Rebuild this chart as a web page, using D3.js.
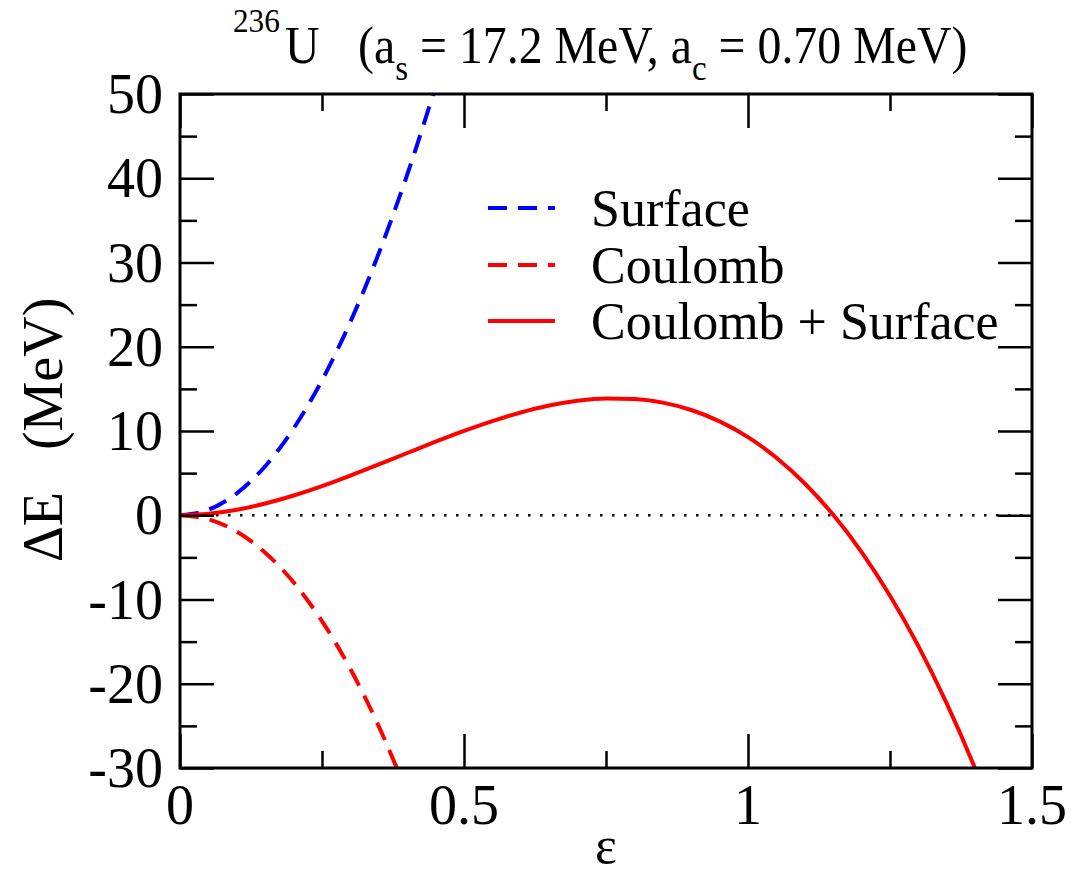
<!DOCTYPE html>
<html>
<head>
<meta charset="utf-8">
<script src="https://cdn.jsdelivr.net/npm/d3@7"></script>
<style>
    body { margin: 0; background: #fff; }
</style>
</head>
<body>
<div id="chart"></div>
<script>
// deformation values (epsilon) and energies
let epsSurface = [0, 0.05, 0.10, 0.15, 0.20, 0.25, 0.30, 0.35, 0.40, 0.45];
let eSurface = [0, 0.65, 2.60, 5.82, 10.30, 16.02, 22.96, 31.10, 40.42, 50.90];

let epsCoulomb = [0, 0.05, 0.10, 0.15, 0.20, 0.25, 0.30, 0.35, 0.40];
let eCoulomb = [0, -0.48, -1.95, -4.44, -7.96, -12.56, -18.25, -25.06, -33.02];

let epsTotal = [0, 0.05, 0.10, 0.15, 0.20, 0.25, 0.30, 0.35, 0.40, 0.45, 0.50, 0.55, 0.60, 0.65, 0.70,
    0.75, 0.80, 0.85, 0.90, 0.95, 1.00, 1.05, 1.10, 1.15, 1.20, 1.25, 1.30, 1.35, 1.40, 1.45];
let eTotal = [0, 0.17, 0.65, 1.39, 2.34, 3.46, 4.71, 6.04, 7.39, 8.73, 10.01, 11.18, 12.20, 13.02, 13.59,
    13.87, 13.81, 13.37, 12.49, 11.14, 9.27, 6.83, 3.77, 0.05, -4.37, -9.55, -15.53, -22.36, -30.08, -38.73];

let xMajorTicks = [0, 0.5, 1, 1.5];
let xTickLabels = ["0", "0.5", "1", "1.5"];
let xMinorTicks = [0.25, 0.75, 1.25];
let yMajorTicks = [-30, -20, -10, 0, 10, 20, 30, 40, 50];
let yTickLabels = ["-30", "-20", "-10", "0", "10", "20", "30", "40", "50"];
let yMinorTicks = [-25, -15, -5, 5, 15, 25, 35, 45];

let legendNames = ["Surface", "Coulomb", "Coulomb + Surface"];
let legendColors = ["#0000ff", "#ff0000", "#ff0000"];
let legendDashed = [true, true, false];

const W = 1081, H = 874;
const plotLeft = 180, plotRight = 1032, plotTop = 94, plotBottom = 768;
const serif = "'Liberation Serif', 'Times New Roman', Times, 'DejaVu Serif', serif";

let svg = d3.select("#chart").append("svg")
    .attr("width", W)
    .attr("height", H)
    .attr("font-family", serif);

let x = d3.scaleLinear().domain([0, 1.5]).range([plotLeft, plotRight]);
let y = d3.scaleLinear().domain([-30, 50]).range([plotBottom, plotTop]);

// clip region = plot frame
svg.append("defs").append("clipPath")
    .attr("id", "plot-clip")
    .append("rect")
    .attr("x", plotLeft).attr("y", plotTop)
    .attr("width", plotRight - plotLeft).attr("height", plotBottom - plotTop);

// zero line (dotted)
svg.append("line")
    .attr("x1", x(0)).attr("x2", x(1.5))
    .attr("y1", y(0)).attr("y2", y(0))
    .attr("stroke", "#000")
    .attr("stroke-width", 2.5)
    .attr("stroke-dasharray", "2.5,9.5");

let line = d3.line()
    .curve(d3.curveMonotoneX)
    .x(d => x(d[0]))
    .y(d => y(d[1]));

let curves = svg.append("g").attr("clip-path", "url(#plot-clip)");

curves.append("path")
    .datum(d3.zip(epsSurface, eSurface))
    .attr("fill", "none")
    .attr("stroke", legendColors[0])
    .attr("stroke-width", 4)
    .attr("stroke-dasharray", "19,11")
    .attr("d", line);

curves.append("path")
    .datum(d3.zip(epsCoulomb, eCoulomb))
    .attr("fill", "none")
    .attr("stroke", legendColors[1])
    .attr("stroke-width", 4)
    .attr("stroke-dasharray", "19,11")
    .attr("d", line);

curves.append("path")
    .datum(d3.zip(epsTotal, eTotal))
    .attr("fill", "none")
    .attr("stroke", legendColors[2])
    .attr("stroke-width", 4)
    .attr("d", line);

// frame
svg.append("rect")
    .attr("x", plotLeft).attr("y", plotTop)
    .attr("width", plotRight - plotLeft).attr("height", plotBottom - plotTop)
    .attr("fill", "none")
    .attr("stroke", "#000")
    .attr("stroke-width", 3);

// ticks on all four sides, pointing inward
const majorLen = 34, minorLen = 17;

let xAxisBottom = d3.axisTop(x).tickValues(xMajorTicks).tickSize(majorLen).tickFormat("");
let xAxisBottomMinor = d3.axisTop(x).tickValues(xMinorTicks).tickSize(minorLen).tickFormat("");
let xAxisTop = d3.axisBottom(x).tickValues(xMajorTicks).tickSize(majorLen).tickFormat("");
let xAxisTopMinor = d3.axisBottom(x).tickValues(xMinorTicks).tickSize(minorLen).tickFormat("");
let yAxisLeft = d3.axisRight(y).tickValues(yMajorTicks).tickSize(majorLen).tickFormat("");
let yAxisLeftMinor = d3.axisRight(y).tickValues(yMinorTicks).tickSize(minorLen).tickFormat("");
let yAxisRight = d3.axisLeft(y).tickValues(yMajorTicks).tickSize(majorLen).tickFormat("");
let yAxisRightMinor = d3.axisLeft(y).tickValues(yMinorTicks).tickSize(minorLen).tickFormat("");

function addAxis(axis, tx, ty) {
    let g = svg.append("g")
        .attr("transform", "translate(" + tx + "," + ty + ")")
        .call(axis);
    g.select(".domain").remove();
    g.selectAll(".tick line").attr("stroke", "#000").attr("stroke-width", 2.5);
}

addAxis(xAxisBottom, 0, plotBottom);
addAxis(xAxisBottomMinor, 0, plotBottom);
addAxis(xAxisTop, 0, plotTop);
addAxis(xAxisTopMinor, 0, plotTop);
addAxis(yAxisLeft, plotLeft, 0);
addAxis(yAxisLeftMinor, plotLeft, 0);
addAxis(yAxisRight, plotRight, 0);
addAxis(yAxisRightMinor, plotRight, 0);

// tick labels
svg.append("g").selectAll("text")
    .data(xMajorTicks)
    .join("text")
    .attr("x", d => x(d))
    .attr("y", plotBottom + 56)
    .attr("text-anchor", "middle")
    .attr("font-family", serif)
    .attr("font-size", 56)
    .text((d, i) => xTickLabels[i]);

svg.append("g").selectAll("text")
    .data(yMajorTicks)
    .join("text")
    .attr("x", plotLeft - 17)
    .attr("y", d => y(d))
    .attr("dy", "0.34em")
    .attr("text-anchor", "end")
    .attr("font-family", serif)
    .attr("font-size", 56)
    .text((d, i) => yTickLabels[i]);

// axis titles
svg.append("text")
    .attr("x", (plotLeft + plotRight) / 2)
    .attr("y", 863)
    .attr("text-anchor", "middle")
    .attr("font-family", serif)
    .attr("font-size", 52)
    .text("ε");

svg.append("text")
    .attr("transform", "translate(62,430) rotate(-90)")
    .attr("text-anchor", "middle")
    .attr("font-family", serif)
    .attr("font-size", 56)
    .attr("xml:space", "preserve")
    .text("ΔE   (MeV)");

// title with super/subscripts (narrow, xmgrace-like glyphs)
const sx = 0.92;
let title = svg.append("text")
    .attr("transform", "scale(" + sx + ",1)")
    .attr("font-family", serif)
    .attr("font-size", 52)
    .attr("xml:space", "preserve");
title.append("tspan").attr("x", 233 / sx).attr("y", 32).attr("font-size", 34).text("236");
title.append("tspan").attr("x", 285 / sx).attr("y", 63).text("U");
title.append("tspan").attr("x", 358 / sx).attr("y", 63).text("(a");
title.append("tspan").attr("font-size", 36).attr("dy", 17).text("s");
title.append("tspan").attr("dy", -17).text(" = 17.2 MeV, a");
title.append("tspan").attr("font-size", 36).attr("dy", 17).text("c");
title.append("tspan").attr("dy", -17).text(" = 0.70 MeV)");

// legend
const legX0 = 488, legX1 = 555, legTextX = 591;
const legY = [208, 265, 321];

let legend = svg.append("g");
legendNames.forEach(function (name, i) {
    legend.append("line")
        .attr("x1", legX0).attr("x2", legX1)
        .attr("y1", legY[i]).attr("y2", legY[i])
        .attr("stroke", legendColors[i])
        .attr("stroke-width", 4)
        .attr("stroke-dasharray", legendDashed[i] ? "19,11" : null);
    legend.append("text")
        .attr("x", legTextX)
        .attr("y", legY[i])
        .attr("dy", "0.34em")
        .attr("font-family", serif)
        .attr("font-size", 52)
        .text(name);
});
</script>
</body>
</html>
